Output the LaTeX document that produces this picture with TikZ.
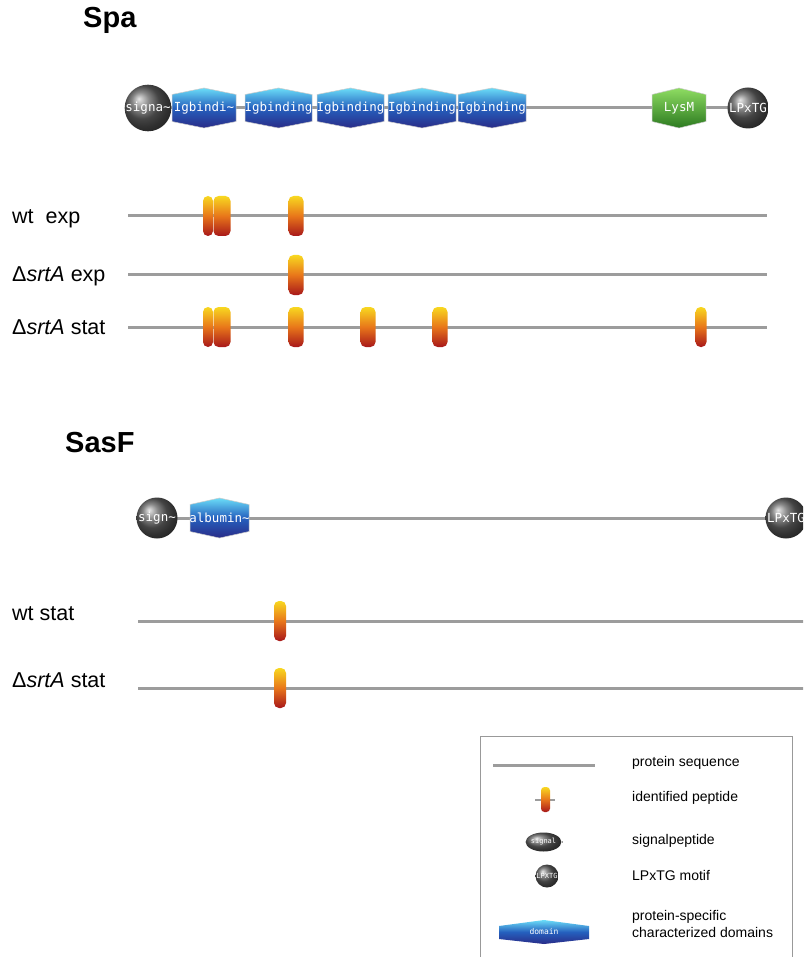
\documentclass[tikz,border=0pt]{standalone}
\usepackage{fontspec}
\setmainfont{Liberation Sans}
\newfontfamily\monof{DejaVu Sans Mono}
\usetikzlibrary{backgrounds,shapes.geometric}
\definecolor{protline}{HTML}{9C9C9C}
\definecolor{hexTop}{HTML}{6ADCF8}
\definecolor{hexMid}{HTML}{2560BE}
\definecolor{hexBot}{HTML}{2A2C88}
\definecolor{lysTop}{HTML}{8EDC62}
\definecolor{lysBot}{HTML}{2C7A20}
\definecolor{pepTop}{HTML}{F8D820}
\definecolor{pepMid}{HTML}{E8761A}
\definecolor{pepBot}{HTML}{A8181A}
\tikzset{
  protein/.style={draw=protline, line width=3pt},
  title/.style={font=\fontsize{29}{32}\selectfont\bfseries, anchor=base west, inner sep=0pt},
  rowlabel/.style={font=\fontsize{21.5}{24}\selectfont, anchor=base west, inner sep=0pt},
  legtext/.style={font=\fontsize{14}{16.5}\selectfont, anchor=west, inner sep=0pt, align=left},
  domtext/.style={font=\monof\fontsize{12.5}{13}\selectfont, text=white, inner sep=0pt},
  ball/.style={circle, minimum size=41pt, inner sep=0pt, shading=ball, ball color=black!62,
    font=\monof\fontsize{12.5}{13}\selectfont, text=white},
  pep/.style={rectangle, rounded corners=5pt, minimum height=40pt, inner sep=0pt,
    top color=pepTop, bottom color=pepBot, middle color=pepMid},
  pepw/.style={pep, minimum width=15pt},
  pepn/.style={pep, minimum width=10pt},
  bluehex/.style={top color=hexTop, bottom color=hexBot, middle color=hexMid, draw=gray!40, line width=0.5pt},
  greenhex/.style={top color=lysTop, bottom color=lysBot, draw=gray!40, line width=0.5pt},
}
\newcommand{\hexd}[6]{%
  \shade[#6] (#2,#4-13.5) -- ({(#2+#3)/2},#4-20) -- (#3,#4-13.5) -- (#3,#4+13.5) -- ({(#2+#3)/2},#4+20) -- (#2,#4+13.5) -- cycle;
  \node[domtext] (#1) at ({(#2+#3)/2},#4) {#5};}
\begin{document}
\begin{tikzpicture}[x=1pt,y=-1pt]
\clip (0,0) rectangle (803,957);
\fill[white] (0,0) rectangle (803,957);

% ---------------- Spa ----------------
\node[title] (spa) at (83,28) {Spa};

\coordinate (spaL) at (148,108);
\coordinate (spaR) at (748,108);
\draw[protein] (spaL) -- (spaR);
\node[ball] (spaSig) at (spaL) {signa\textasciitilde};
\hexd{spaD1}{172}{236}{108}{Igbindi\textasciitilde}{bluehex}
\hexd{spaD2}{245}{312}{108}{Igbinding}{bluehex}
\hexd{spaD3}{317}{384}{108}{Igbinding}{bluehex}
\hexd{spaD4}{388}{456}{108}{Igbinding}{bluehex}
\hexd{spaD5}{458}{526}{108}{Igbinding}{bluehex}
\hexd{spaLys}{652}{706}{108}{LysM}{greenhex}
\node[ball] (spaLP) at (spaR) {LPxTG};

% wt exp
\node[rowlabel] (lab1) at (12,224) {wt\ \ exp};
\coordinate (r1L) at (128,216);
\coordinate (r1R) at (767,216);
\draw[protein] (r1L) -- (r1R);
\node[pepn] (p1a) at (208,216) {};
\node[pep, minimum width=17pt] (p1b) at (222,216) {};
\node[pepw] (p1c) at (296,216) {};

% srtA exp
\node[rowlabel] (lab2) at (12,282) {Δ\textit{srtA} exp};
\coordinate (r2L) at (128,275);
\coordinate (r2R) at (767,275);
\draw[protein] (r2L) -- (r2R);
\node[pepw] (p2a) at (296,275) {};

% srtA stat
\node[rowlabel] (lab3) at (12,334) {Δ\textit{srtA} stat};
\coordinate (r3L) at (128,327);
\coordinate (r3R) at (767,327);
\draw[protein] (r3L) -- (r3R);
\node[pepn] (p3a) at (208,327) {};
\node[pep, minimum width=17pt] (p3b) at (222,327) {};
\node[pepw] (p3c) at (296,327) {};
\node[pepw] (p3d) at (368,327) {};
\node[pepw] (p3e) at (440,327) {};
\node[pep, minimum width=11pt] (p3f) at (701,327) {};

% ---------------- SasF ----------------
\node[title] (sasf) at (65,452) {SasF};

\coordinate (sasL) at (157,518);
\coordinate (sasR) at (786,518);
\draw[protein] (sasL) -- (sasR);
\node[ball] (sasSig) at (sasL) {sign\textasciitilde};
\hexd{sasAlb}{190}{249}{518}{albumin\textasciitilde}{bluehex}
\node[ball] (sasLP) at (sasR) {LPxTG};

% wt stat
\node[rowlabel] (lab4) at (12,620) {wt stat};
\coordinate (r4L) at (138,621);
\coordinate (r4R) at (810,621);
\draw[protein] (r4L) -- (r4R);
\node[pep, minimum width=12pt] (p4a) at (280,621) {};

% srtA stat
\node[rowlabel] (lab5) at (12,687) {Δ\textit{srtA} stat};
\coordinate (r5L) at (138,688);
\coordinate (r5R) at (810,688);
\draw[protein] (r5L) -- (r5R);
\node[pep, minimum width=12pt] (p5a) at (280,688) {};

% ---------------- Legend ----------------
\draw[gray!80, line width=1pt] (480,736) rectangle (792,975);

\coordinate (lgL) at (493,765);
\coordinate (lgR) at (595,765);
\draw[protein] (lgL) -- (lgR);
\node[legtext] (t1) at (632,763) {protein sequence};

\coordinate (lpL) at (535,800);
\coordinate (lpR) at (555,800);
\draw[protein, line width=1.5pt] (lpL) -- (lpR);
\node[pep, minimum width=9pt, minimum height=25pt, rounded corners=3.5pt] (lpep) at (545.5,799.5) {};
\node[legtext] (t2) at (632,798) {identified peptide};

\coordinate (lsR) at (562,842);
\node[ellipse, minimum width=29pt, minimum height=19pt, inner sep=0pt, shading=ball, ball color=black!62,
  font=\monof\fontsize{7}{7}\selectfont, text=white] (lsig) at (543.5,842) {signal};
\draw[protein, line width=1.5pt] (lsig.east) -- (lsR);
\node[legtext] (t3) at (632,841) {signalpeptide};

\coordinate (llL) at (531,876);
\node[circle, minimum size=23pt, inner sep=0pt, shading=ball, ball color=black!62,
  font=\monof\fontsize{7}{7}\selectfont, text=white] (llp) at (547,876) {LPXTG};
\begin{pgfonlayer}{background}
\draw[protein, line width=1.5pt] (llL) -- (llp.center);
\end{pgfonlayer}
\node[legtext] (t4) at (632,875) {LPxTG motif};

\shade[bluehex, draw=none] (499,926) -- (544,920) -- (589,926) -- (589,939) -- (544,944) -- (499,939) -- cycle;
\node[domtext, font=\monof\fontsize{8}{8}\selectfont] (ldom) at (544,932) {domain};
\node[legtext] (t5) at (632,924) {protein-specific\\characterized domains};
\end{tikzpicture}
\end{document}
